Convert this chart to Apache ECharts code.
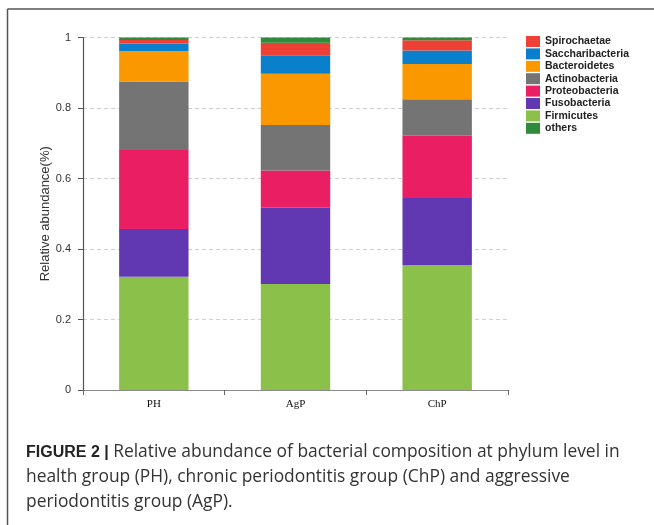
<!DOCTYPE html>
<html>
<head>
<meta charset="utf-8">
<script src="https://cdn.jsdelivr.net/npm/echarts@6/dist/echarts.min.js"></script>
<style>
  html, body { margin: 0; padding: 0; background: #fff; }
  #chart { width: 654px; height: 525px; }
</style>
</head>
<body>
<div id="chart"></div>
<script>
// Groups on the x axis
const groups = ['PH', 'AgP', 'ChP'];

// Relative abundance of each phylum per group (stacked bottom to top)
const firmicutes       = [0.321, 0.301, 0.354];
const fusobacteria     = [0.136, 0.216, 0.191];
const proteobacteria   = [0.224, 0.106, 0.176];
const actinobacteria   = [0.194, 0.129, 0.104];
const bacteroidetes    = [0.086, 0.145, 0.100];
const saccharibacteria = [0.022, 0.053, 0.038];
const spirochaetae     = [0.010, 0.035, 0.029];
const others           = [0.007, 0.015, 0.008];

// Legend order (top to bottom)
const legendOrder = ['Spirochaetae', 'Saccharibacteria', 'Bacteroidetes', 'Actinobacteria',
                     'Proteobacteria', 'Fusobacteria', 'Firmicutes', 'others'];

const stackOrder = [
  { name: 'Firmicutes',       data: firmicutes,       color: '#8bc04a' },
  { name: 'Fusobacteria',     data: fusobacteria,     color: '#6238b2' },
  { name: 'Proteobacteria',   data: proteobacteria,   color: '#e91e63' },
  { name: 'Actinobacteria',   data: actinobacteria,   color: '#747474' },
  { name: 'Bacteroidetes',    data: bacteroidetes,    color: '#fa9800' },
  { name: 'Saccharibacteria', data: saccharibacteria, color: '#0a80cc' },
  { name: 'Spirochaetae',     data: spirochaetae,     color: '#ee4034' },
  { name: 'others',           data: others,           color: '#2e8b3c' }
];

const chart = echarts.init(document.getElementById('chart'), null, { renderer: 'canvas' });

chart.setOption({
  backgroundColor: '#ffffff',
  animation: false,
  grid: { left: 83, right: 146, top: 37.5, bottom: 135, containLabel: false },
  legend: {
    orient: 'vertical',
    left: 526,
    top: 36,
    padding: 0,
    icon: 'rect',
    itemWidth: 14,
    itemHeight: 11,
    itemGap: 1.4,
    data: legendOrder,
    textStyle: {
      fontFamily: 'Liberation Sans, Arial, sans-serif',
      fontSize: 10.5,
      fontWeight: 'bold',
      color: '#222',
      lineHeight: 11
    }
  },
  xAxis: {
    type: 'category',
    data: groups,
    axisLine: { lineStyle: { color: '#8a8a8a', width: 1.2 } },
    axisTick: { show: true, length: 5, lineStyle: { color: '#666' } },
    axisLabel: {
      margin: 9,
      fontFamily: 'Liberation Serif, Times New Roman, serif',
      fontSize: 11,
      color: '#111'
    }
  },
  yAxis: {
    type: 'value',
    min: 0,
    max: 1,
    interval: 0.2,
    name: 'Relative abundance(%)',
    nameLocation: 'middle',
    nameGap: 31,
    nameMoveOverlap: false,
    nameTextStyle: {
      fontFamily: 'Liberation Sans, Arial, sans-serif',
      fontSize: 13,
      color: '#333'
    },
    axisLine: { show: true, lineStyle: { color: '#555', width: 1.2 } },
    axisTick: { show: true, length: 5, lineStyle: { color: '#555' } },
    axisLabel: {
      margin: 12,
      fontFamily: 'Liberation Sans, Arial, sans-serif',
      fontSize: 11,
      color: '#333'
    },
    splitLine: { show: true, lineStyle: { color: '#cfcfcf', type: [4, 3], width: 1 } }
  },
  series: stackOrder.map(s => ({
    name: s.name,
    type: 'bar',
    stack: 'abundance',
    barWidth: '49%',
    data: s.data,
    itemStyle: { color: s.color },
    emphasis: { disabled: true }
  })),
  graphic: [
    // Frame lines along the top and left edges
    { type: 'line', shape: { x1: 7.5, y1: 9, x2: 654, y2: 9 }, style: { stroke: '#555', lineWidth: 1.5 } },
    { type: 'line', shape: { x1: 7.5, y1: 9, x2: 7.5, y2: 525 }, style: { stroke: '#555', lineWidth: 1.5 } },
    // Figure caption
    {
      type: 'text',
      left: 26,
      top: 440,
      style: {
        text: '{b|FIGURE 2 |} Relative abundance of bacterial composition at phylum level in\n' +
              'health group (PH), chronic periodontitis group (ChP) and aggressive\n' +
              'periodontitis group (AgP).',
        fontFamily: 'Open Sans, Liberation Sans, Arial, sans-serif',
        fontSize: 17.4,
        lineHeight: 25,
        fill: '#333',
        rich: {
          b: { fontFamily: 'Liberation Sans, Arial, sans-serif', fontSize: 16, fontWeight: 'bold', fill: '#222', lineHeight: 25 }
        }
      }
    }
  ]
});
</script>
</body>
</html>
